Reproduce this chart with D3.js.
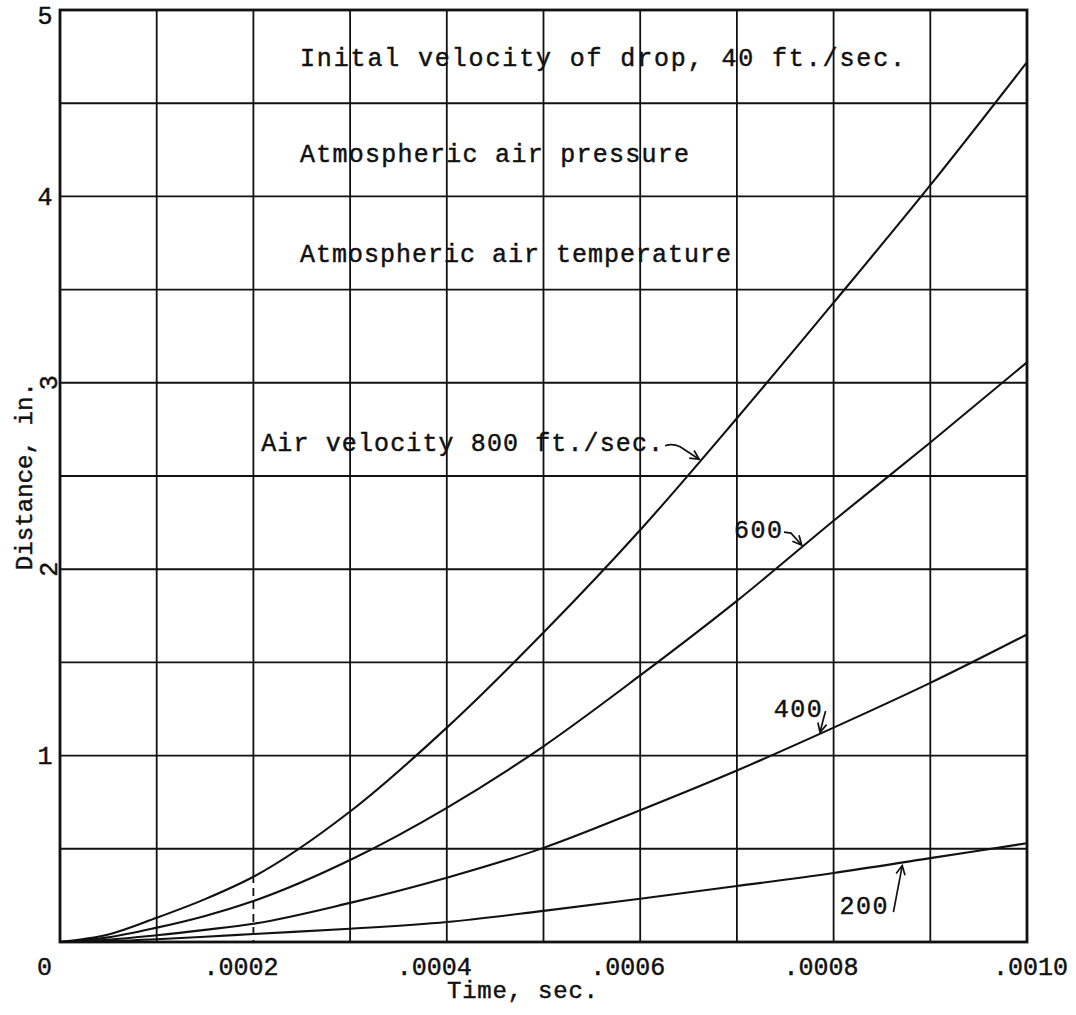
<!DOCTYPE html>
<html><head><meta charset="utf-8">
<script src="https://cdn.jsdelivr.net/npm/d3@7"></script>
<style>
body{margin:0;background:#fff;}
svg text{font-family:"Liberation Mono","DejaVu Sans Mono",monospace;fill:#111;stroke:#111;stroke-width:0.45px;}
</style></head>
<body><svg id="chart" width="1076" height="1015"></svg>
<script>
// ---- data ----
const time    = [0, 0.00005, 0.0001, 0.00015, 0.0002, 0.0003, 0.0004, 0.0005, 0.0006, 0.0007, 0.0008, 0.0009, 0.0010];
const dist800 = [0, 0.04, 0.13, 0.23, 0.35, 0.70, 1.15, 1.66, 2.21, 2.81, 3.43, 4.06, 4.72];
const dist600 = [0, 0.025, 0.077, 0.14, 0.22, 0.44, 0.72, 1.05, 1.43, 1.83, 2.26, 2.68, 3.11];
const dist400 = [0, 0.012, 0.036, 0.065, 0.098, 0.21, 0.345, 0.505, 0.707, 0.92, 1.15, 1.39, 1.65];
const dist200 = [0, 0.005, 0.015, 0.028, 0.043, 0.071, 0.107, 0.167, 0.232, 0.30, 0.37, 0.45, 0.53];
const seriesNames = ["800", "600", "400", "200"];
const xTickValues = [0, 0.0002, 0.0004, 0.0006, 0.0008, 0.0010];
const xTickLabels = ["0", ".0002", ".0004", ".0006", ".0008", ".0010"];
const yTickValues = [1, 2, 3, 4, 5];
const yTickLabels = ["1", "2", "3", "4", "5"];
const xTitle = "Time, sec.";
const yTitle = "Distance, in.";
const notes = ["Inital velocity of drop,  40 ft./sec.", "Atmospheric air pressure", "Atmospheric air temperature"];
const curveLabels = ["Air velocity 800 ft./sec.", "600", "400", "200"];

// ---- layout ----
const svg = d3.select("#chart");
const L = 60, R = 1027, T = 10, B = 942;
const x = d3.scaleLinear().domain([0, 0.001]).range([L, R]);
const y = d3.scaleLinear().domain([0, 5]).range([B, T]);
const ink = "#111";

svg.append("defs").append("marker")
  .attr("id", "head").attr("markerUnits", "userSpaceOnUse")
  .attr("markerWidth", 12).attr("markerHeight", 12)
  .attr("refX", 10).attr("refY", 6).attr("orient", "auto")
  .append("path").attr("d", "M1,1.5 L10,6 L1,10.5")
  .attr("fill", "none").attr("stroke", ink).attr("stroke-width", 1.7);

// grid
const g = svg.append("g");
const vGrid = d3.range(1, 10).map(i => i * 0.0001);
const hGrid = d3.range(1, 10).map(i => i * 0.5);
g.selectAll(".hg").data(hGrid).join("line")
  .attr("x1", L).attr("x2", R).attr("y1", d => y(d)).attr("y2", d => y(d))
  .attr("stroke", ink).attr("stroke-width", 1.9);
g.selectAll(".vg").data(vGrid).join("line")
  .attr("x1", d => x(d)).attr("x2", d => x(d))
  .attr("y1", T).attr("y2", d => Math.abs(d - 0.0002) < 1e-9 ? y(0.36) : B)
  .attr("stroke", ink).attr("stroke-width", 1.8);
// dashed lower part of the .0002 line
g.append("line").attr("x1", x(0.0002)).attr("x2", x(0.0002))
  .attr("y1", y(0.36)).attr("y2", B)
  .attr("stroke", ink).attr("stroke-width", 1.8).attr("stroke-dasharray", "8,5");
// frame
g.append("rect").attr("x", L).attr("y", T).attr("width", R - L).attr("height", B - T)
  .attr("fill", "none").attr("stroke", ink).attr("stroke-width", 2.8);

// curves
const allSeries = [dist800, dist600, dist400, dist200];
const line = d3.line().x((d, i) => x(time[i])).y(d => y(d)).curve(d3.curveMonotoneX);
svg.selectAll(".curve").data(allSeries).join("path")
  .attr("d", d => line(d)).attr("fill", "none")
  .attr("stroke", ink).attr("stroke-width", 2.1);

// x axis labels
const xAxis = d3.axisBottom(x).tickValues(xTickValues)
  .tickFormat((d, i) => xTickLabels[i]).tickSize(0).tickPadding(0);
const xa = svg.append("g").attr("transform", `translate(0,${B})`).call(xAxis);
xa.select(".domain").remove();
xa.selectAll("text").attr("font-size", 25).attr("fill", ink)
  .attr("font-family", "Liberation Mono")
  .attr("y", 33).attr("dy", 0)
  .attr("dx", (d, i) => i === 0 ? -16 : (i === xTickValues.length - 1 ? 3 : -13));

// y axis labels
yTickValues.forEach((v, i) => {
  const rotated = (v === 2 || v === 3);
  const cy = Math.max(y(v) + 2, 17);
  const t = svg.append("text").text(yTickLabels[i]).attr("font-size", 25)
    .attr("text-anchor", "middle").attr("dominant-baseline", "central");
  if (rotated) t.attr("transform", `translate(50,${y(v)}) rotate(-90)`);
  else t.attr("x", 45).attr("y", cy);
});

// axis titles
svg.append("text").text(xTitle).attr("font-size", 24)
  .attr("x", 447).attr("y", 998)
  .attr("textLength", 151).attr("lengthAdjust", "spacing");
svg.append("text").text(yTitle).attr("font-size", 24)
  .attr("transform", `translate(32,${y(1.995)}) rotate(-90)`)
  .attr("textLength", 188).attr("lengthAdjust", "spacing");

// notes
const noteLayout = [{x: 300, y: 66, len: 605}, {x: 300, y: 162, len: 389}, {x: 300, y: 262, len: 431}];
notes.forEach((s, i) => {
  svg.append("text").text(s).attr("font-size", 25)
    .attr("x", noteLayout[i].x).attr("y", noteLayout[i].y)
    .attr("textLength", noteLayout[i].len).attr("lengthAdjust", "spacing");
});

// curve labels with arrows
const lab = [
  {t: 0.000208, v: 2.635, len: 402, tip: [0.000661, 2.59], path: (sx, sy, tx, ty) => `M${sx},${sy - 5} q7,-3 15,1 L${tx},${ty}`},
  {t: 0.000697, v: 2.167, len: 48, tip: [0.000767, 2.13], path: (sx, sy, tx, ty) => `M${sx},${sy - 6} l7,1 L${tx},${ty}`},
  {t: 0.000738, v: 1.207, len: 48, tip: [0.000786, 1.125], path: (sx, sy, tx, ty) => `M${sx + 2},${sy - 6} l-2,7 L${tx},${ty}`},
  {t: 0.000806, v: 0.150, len: 48, tip: [0.000871, 0.41], path: (sx, sy, tx, ty) => `M${sx + 4},${sy - 2} L${tx},${ty}`}
];
curveLabels.forEach((s, i) => {
  const c = lab[i];
  const sx = x(c.t), sy = y(c.v);
  svg.append("text").text(s).attr("font-size", 25)
    .attr("x", sx).attr("y", sy)
    .attr("textLength", c.len).attr("lengthAdjust", "spacing");
  svg.append("path").attr("d", c.path(sx + c.len + 2, sy, x(c.tip[0]), y(c.tip[1])))
    .attr("fill", "none").attr("stroke", ink).attr("stroke-width", 1.7)
    .attr("marker-end", "url(#head)");
});
</script>
</body></html>
